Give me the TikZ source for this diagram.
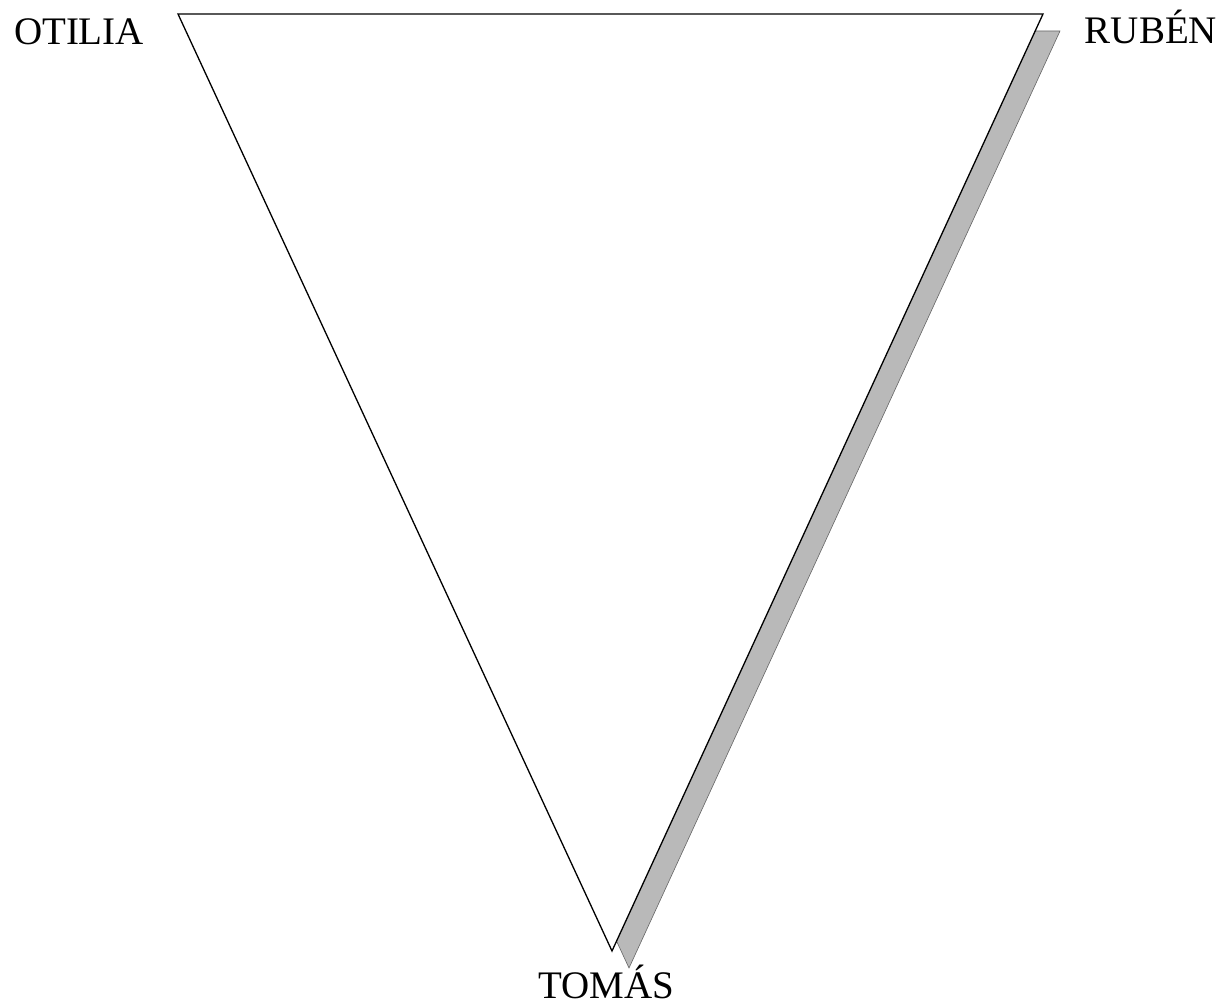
\documentclass[tikz,border=0pt]{standalone}
\usepackage{fontspec}
\setmainfont{Liberation Serif}
\begin{document}
\begin{tikzpicture}[x=1pt,y=-1pt,
  lbl/.style={font=\fontsize{39}{44}\selectfont, inner sep=0pt, anchor=base},
  edge/.style={draw=black, line width=1.3pt, line join=miter}]
\useasboundingbox (0,0) rectangle (1229,1008);
\coordinate (o) at (178,14);
\coordinate (r) at (1043,14);
\coordinate (t) at (612,951);
% shadow
\fill[gray!55, draw=gray!80!black, line width=0.6pt] ([shift={(17,17)}]o) -- ([shift={(17,17)}]r) -- ([shift={(17,17)}]t) -- cycle;
% triangle
\filldraw[edge, fill=white] (o) -- (r) -- (t) -- cycle;
\node[lbl] (otilia) at (79,45) {OTILIA};
\node[lbl] (ruben) at (1151,44) {RUBÉN};
\node[lbl] (tomas) at (606,998) {TOMÁS};
\end{tikzpicture}
\end{document}
